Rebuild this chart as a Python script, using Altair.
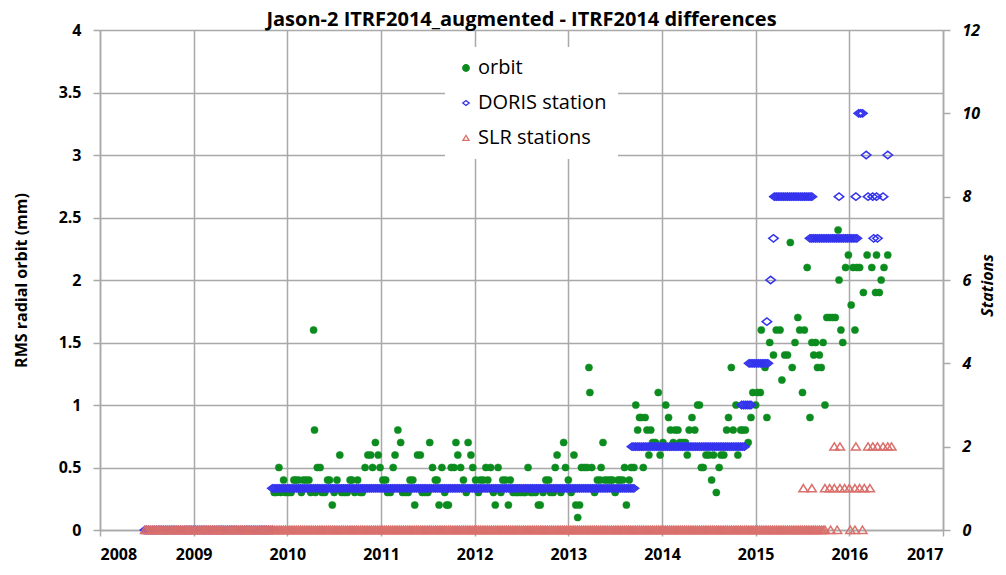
import altair as alt
import numpy as np
import pandas as pd

# ---------------- data ----------------
orbit_year = [
    2009.86, 2009.88, 2009.91, 2009.93, 2009.96, 2009.98, 2010.01, 2010.04, 2010.07, 2010.09,
    2010.12, 2010.15, 2010.17, 2010.20, 2010.23, 2010.25, 2010.28, 2010.29, 2010.30, 2010.32,
    2010.35, 2010.37, 2010.40, 2010.43, 2010.45, 2010.48, 2010.50, 2010.53, 2010.56, 2010.58,
    2010.61, 2010.64, 2010.67, 2010.69, 2010.72, 2010.75, 2010.78, 2010.80, 2010.83, 2010.86,
    2010.89, 2010.91, 2010.94, 2010.97, 2010.99, 2011.02, 2011.05, 2011.07, 2011.10, 2011.13,
    2011.15, 2011.18, 2011.21, 2011.23, 2011.26, 2011.29, 2011.31, 2011.34, 2011.36, 2011.39,
    2011.42, 2011.44, 2011.47, 2011.50, 2011.52, 2011.55, 2011.58, 2011.60, 2011.62, 2011.65,
    2011.68, 2011.70, 2011.72, 2011.75, 2011.78, 2011.80, 2011.82, 2011.85, 2011.88, 2011.91,
    2011.93, 2011.96, 2011.98, 2012.01, 2012.04, 2012.06, 2012.09, 2012.12, 2012.14, 2012.17,
    2012.20, 2012.22, 2012.25, 2012.28, 2012.30, 2012.33, 2012.36, 2012.38, 2012.41, 2012.44,
    2012.46, 2012.49, 2012.52, 2012.54, 2012.57, 2012.60, 2012.62, 2012.65, 2012.68, 2012.70,
    2012.73, 2012.76, 2012.79, 2012.81, 2012.84, 2012.86, 2012.88, 2012.92, 2012.95, 2012.97,
    2013.00, 2013.03, 2013.06, 2013.08, 2013.10, 2013.12, 2013.14, 2013.17, 2013.20, 2013.22,
    2013.23, 2013.25, 2013.28, 2013.31, 2013.34, 2013.35, 2013.37, 2013.39, 2013.42, 2013.45,
    2013.47, 2013.50, 2013.53, 2013.55, 2013.58, 2013.60, 2013.62, 2013.65, 2013.67, 2013.70,
    2013.72, 2013.74, 2013.76, 2013.78, 2013.80, 2013.82, 2013.84, 2013.86, 2013.88, 2013.90,
    2013.93, 2013.96, 2013.98, 2014.01, 2014.04, 2014.07, 2014.09, 2014.12, 2014.14, 2014.17,
    2014.19, 2014.22, 2014.25, 2014.27, 2014.29, 2014.32, 2014.35, 2014.38, 2014.40, 2014.42,
    2014.44, 2014.47, 2014.50, 2014.53, 2014.55, 2014.58, 2014.61, 2014.63, 2014.66, 2014.69,
    2014.71, 2014.74, 2014.76, 2014.79, 2014.81, 2014.84, 2014.86, 2014.89, 2014.92, 2014.95,
    2014.97, 2015.00, 2015.02, 2015.05, 2015.06, 2015.10, 2015.12, 2015.15, 2015.19, 2015.22,
    2015.26, 2015.28, 2015.31, 2015.34, 2015.37, 2015.39, 2015.42, 2015.45, 2015.47, 2015.50,
    2015.52, 2015.55, 2015.58, 2015.60, 2015.62, 2015.64, 2015.66, 2015.68, 2015.70, 2015.72,
    2015.74, 2015.76, 2015.79, 2015.82, 2015.85, 2015.88, 2015.89, 2015.91, 2015.93, 2015.96,
    2015.99, 2016.02, 2016.04, 2016.06, 2016.08, 2016.11, 2016.15, 2016.19, 2016.24, 2016.28,
    2016.29, 2016.32, 2016.34, 2016.37, 2016.41,
]
orbit_rms = [
    0.3, 0.3, 0.5, 0.3, 0.4, 0.3, 0.3, 0.3, 0.4, 0.4,
    0.4, 0.3, 0.4, 0.4, 0.4, 0.3, 1.6, 0.8, 0.3, 0.5,
    0.5, 0.3, 0.3, 0.4, 0.4, 0.2, 0.3, 0.4, 0.6, 0.3,
    0.3, 0.3, 0.4, 0.4, 0.3, 0.4, 0.3, 0.3, 0.5, 0.6,
    0.6, 0.5, 0.7, 0.6, 0.5, 0.4, 0.4, 0.3, 0.3, 0.5,
    0.6, 0.8, 0.7, 0.3, 0.3, 0.3, 0.4, 0.4, 0.2, 0.6,
    0.6, 0.3, 0.3, 0.3, 0.7, 0.5, 0.4, 0.4, 0.2, 0.5,
    0.3, 0.2, 0.2, 0.5, 0.5, 0.7, 0.6, 0.5, 0.4, 0.3,
    0.7, 0.6, 0.5, 0.4, 0.3, 0.4, 0.4, 0.5, 0.4, 0.5,
    0.3, 0.2, 0.5, 0.3, 0.4, 0.4, 0.2, 0.4, 0.3, 0.3,
    0.3, 0.3, 0.3, 0.3, 0.5, 0.3, 0.3, 0.3, 0.2, 0.2,
    0.3, 0.4, 0.4, 0.3, 0.3, 0.5, 0.6, 0.3, 0.7, 0.5,
    0.4, 0.3, 0.6, 0.2, 0.1, 0.2, 0.5, 0.5, 0.5, 1.3,
    1.1, 0.5, 0.3, 0.4, 0.4, 0.5, 0.7, 0.4, 0.4, 0.4,
    0.4, 0.3, 0.4, 0.4, 0.4, 0.5, 0.2, 0.4, 0.5, 0.5,
    1.0, 0.8, 0.9, 0.9, 0.5, 0.9, 0.8, 0.6, 0.8, 0.7,
    0.7, 1.1, 0.6, 0.7, 1.0, 0.9, 0.8, 0.7, 0.8, 0.8,
    0.7, 0.7, 0.7, 0.6, 0.8, 0.9, 0.8, 1.0, 1.0, 0.5,
    0.5, 0.6, 0.6, 0.4, 0.6, 0.3, 0.5, 0.6, 0.6, 0.8,
    0.9, 1.3, 0.8, 1.0, 0.6, 0.8, 0.8, 0.8, 0.7, 0.9,
    1.1, 1.0, 1.1, 1.1, 1.6, 1.3, 0.9, 1.5, 1.4, 1.6,
    1.6, 1.2, 1.4, 1.4, 2.3, 1.3, 1.5, 1.7, 1.6, 1.1,
    1.6, 2.1, 0.9, 1.5, 1.4, 1.5, 1.3, 1.4, 1.3, 1.5,
    1.0, 1.7, 1.7, 1.7, 1.7, 2.4, 2.0, 1.6, 1.5, 2.1,
    2.2, 1.8, 2.1, 1.6, 2.1, 2.1, 1.9, 2.2, 2.1, 1.9,
    2.2, 1.9, 2.0, 2.1, 2.2,
]

# station counts: runs of constant value (start year, end year, count)
doris_run_start = [2008.48, 2009.84, 2013.68, 2014.85, 2014.93, 2015.20, 2015.58]
doris_run_end = [2009.84, 2013.71, 2014.89, 2014.96, 2015.13, 2015.61, 2016.08]
doris_run_count = [0, 1, 2, 3, 4, 8, 7]
doris_extra_year = [2015.12, 2015.16, 2015.19, 2015.89, 2016.07, 2016.10, 2016.12, 2016.14,
                    2016.18, 2016.20, 2016.25, 2016.26, 2016.29, 2016.30, 2016.36, 2016.41]
doris_extra_count = [5, 6, 7, 8, 8, 10, 10, 10, 9, 8, 8, 7, 8, 7, 8, 9]

slr_run_start = [2008.48]
slr_run_end = [2015.75]
slr_run_count = [0]
slr_extra_year = [2015.80, 2015.87, 2016.01, 2016.06, 2016.14,
                  2015.51, 2015.60, 2015.74, 2015.79, 2015.84, 2015.90, 2015.95, 2016.00,
                  2016.06, 2016.11, 2016.16, 2016.22,
                  2015.84, 2015.90, 2016.07, 2016.20, 2016.25, 2016.30, 2016.36, 2016.41, 2016.45]
slr_extra_count = [0, 0, 0, 0, 0,
                   1, 1, 1, 1, 1, 1, 1, 1,
                   1, 1, 1, 1,
                   2, 2, 2, 2, 2, 2, 2, 2, 2]

series_names = ["orbit", "DORIS station", "SLR stations"]
series_colors = ["#0c8c1e", "#3434ee", "#d9706c"]
series_fills = ["#0c8c1e", "transparent", "transparent"]
series_shapes = ["circle", "M-1,0L0,-0.78L1,0L0,0.78Z", "M0,-0.8L0.95,0.72L-0.95,0.72Z"]

year_ticks = list(range(2008, 2018))
rms_ticks = [0, 0.5, 1, 1.5, 2, 2.5, 3, 3.5, 4]
station_ticks = [0, 2, 4, 6, 8, 10, 12]

# ---------------- tables ----------------
orbit_df = pd.DataFrame({"year": orbit_year, "value": orbit_rms, "series": "orbit"})


def runs(starts, ends, counts, step=0.02):
    ys, cs = [], []
    for s, e, c in zip(starts, ends, counts):
        for t in np.arange(s, e + 1e-9, step):
            ys.append(round(float(t), 3))
            cs.append(c)
    return ys, cs


dy, dc = runs(doris_run_start, doris_run_end, doris_run_count)
sy, sc = runs(slr_run_start, slr_run_end, slr_run_count)
st_df = pd.concat([
    pd.DataFrame({"year": dy + doris_extra_year, "value": dc + doris_extra_count,
                  "series": "DORIS station"}),
    pd.DataFrame({"year": sy + slr_extra_year, "value": sc + slr_extra_count,
                  "series": "SLR stations"}),
], ignore_index=True)

# ---------------- chart ----------------
FONT = "Open Sans"
GRID = "#a9a9a9"

legend = alt.Legend(
    title=None, orient="none", legendX=345, legendY=17, fillColor="white",
    padding=11, labelFont=FONT, labelFontSize=20, labelColor="black",
    labelFontWeight="normal", rowPadding=15, symbolSize=42, symbolStrokeWidth=1.3,
    labelOffset=2,
)

fill_enc = alt.Fill("series:N", scale=alt.Scale(domain=series_names, range=series_fills), legend=legend)
stroke_enc = alt.Stroke("series:N", scale=alt.Scale(domain=series_names, range=series_colors), legend=legend)
shape_enc = alt.Shape("series:N", scale=alt.Scale(domain=series_names, range=series_shapes), legend=legend)

x_enc = alt.X(
    "year:Q",
    scale=alt.Scale(domain=[2008, 2017], nice=False, zero=False),
    axis=alt.Axis(values=year_ticks, format="d", title=None, grid=True, tickSize=6,
                  labelPadding=10),
)

orbit = alt.Chart(orbit_df).mark_point(size=52, strokeWidth=0.5, opacity=1).encode(
    x=x_enc,
    y=alt.Y("value:Q", scale=alt.Scale(domain=[0, 4], nice=False),
            axis=alt.Axis(orient="left", values=rms_ticks, format="~g",
                          title="RMS radial orbit (mm)", grid=True, tickSize=7,
                          labelPadding=12, titleX=-71, titleY=250, titleFontSize=16)),
    fill=fill_enc, stroke=stroke_enc, shape=shape_enc,
)

stations = alt.Chart(st_df).mark_point(size=90, strokeWidth=1.5, opacity=1).encode(
    x=x_enc,
    y=alt.Y("value:Q", scale=alt.Scale(domain=[0, 12], nice=False),
            axis=alt.Axis(orient="right", values=station_ticks, format="d",
                          title="Stations", grid=False, tickSize=7, labelPadding=12,
                          labelFontStyle="italic", titleFontStyle="italic",
                          titleAngle=270, titleX=52, titleY=255, titleFontSize=16)),
    fill=fill_enc, stroke=stroke_enc, shape=shape_enc,
)

chart = alt.layer(orbit, stations).resolve_scale(y="independent").properties(
    width=843, height=500,
    title=alt.TitleParams("Jason-2 ITRF2014_augmented - ITRF2014 differences",
                          font=FONT, fontSize=20, fontWeight="bold", color="black",
                          anchor="middle", offset=-8),
    autosize=alt.AutoSizeParams(type="none"),
    padding={"left": 92, "top": 22, "right": 55, "bottom": 37},
).configure_view(stroke=None).configure_axis(
    domainColor=GRID, gridColor=GRID, tickColor=GRID, domainWidth=1.5, gridWidth=1.5,
    tickWidth=1.5, labelFont=FONT, labelFontSize=16, labelFontWeight="bold",
    labelColor="black", titleFont=FONT, titleFontWeight="bold", titleColor="black",
)

chart.save("out.html", embed_options={"renderer": "svg", "actions": False})
